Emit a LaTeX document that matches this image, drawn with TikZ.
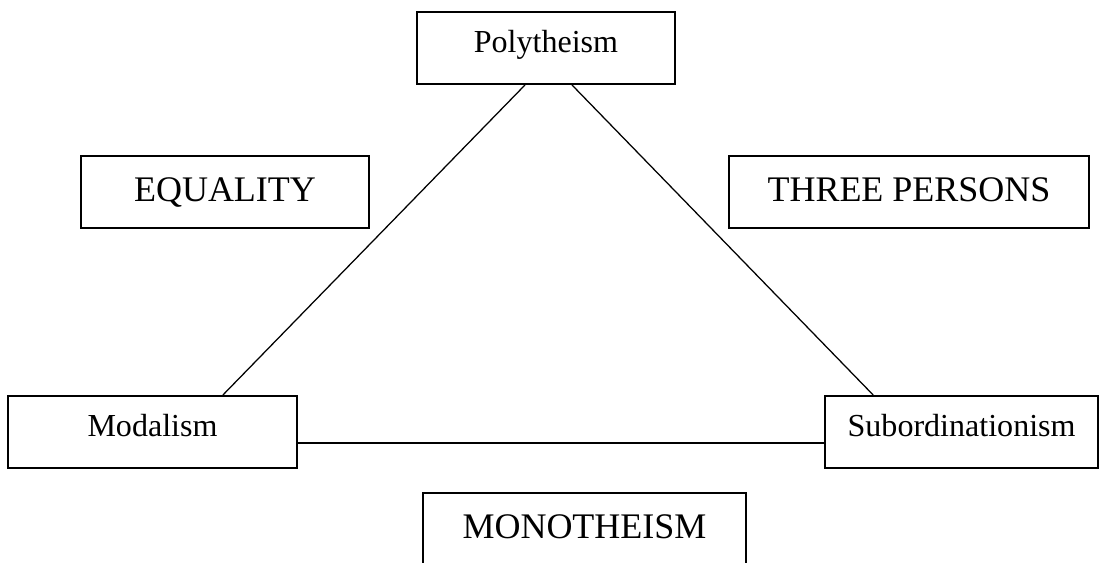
\documentclass[tikz,border=0pt]{standalone}
\usepackage{fontspec}
\setmainfont{Liberation Serif}
\usetikzlibrary{positioning}

\begin{document}
\begin{tikzpicture}[node distance=4cm,on grid,
    school/.style={draw,line width=1.4pt,minimum height=1.8cm,inner sep=0pt,
      text height=14.8pt,text depth=9.1pt,font=\fontsize{22.8}{27}\selectfont},
    theme/.style={draw,line width=1.4pt,minimum height=1.8cm,inner sep=0pt,
      text height=19.2pt,text depth=6.4pt,font=\fontsize{25.6}{30}\selectfont}]
   \useasboundingbox (0,0) rectangle (27.475,-14.05);
   \node[school,minimum width=6.45cm] (poly) at (13.65,-1.2) {Polytheism};
   \node[theme,minimum width=7.2cm] (equal) [below left=3.6cm and 8.025cm of poly] {EQUALITY};
   \node[theme,minimum width=9cm] (three) [below right=3.6cm and 9.075cm of poly] {THREE PERSONS};
   \node[school,minimum width=7.225cm] (modal) [below left=6cm and 1.8125cm of equal] {Modalism};
   \node[school,minimum width=6.825cm] (subord) [below right=6cm and 1.315cm of three] {Subordinationism};
   \node[theme,minimum width=8.075cm] (mono) [below right=12.025cm and 0.9625cm of poly] {MONOTHEISM};
    \path[line width=0.9pt]
    ([xshift=-5.25mm]poly.south) edge ([xshift=17.6mm]modal.north)
    ([xshift=6.5mm]poly.south) edge ([xshift=-22.1mm]subord.north)
    ([yshift=-2.75mm]modal.east) edge ([yshift=-2.75mm]subord.west);
\end{tikzpicture}
\end{document}
